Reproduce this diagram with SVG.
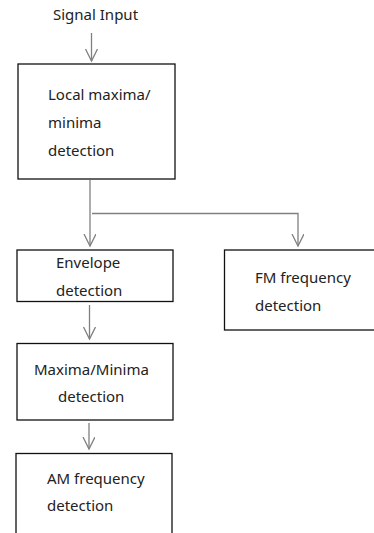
<svg xmlns="http://www.w3.org/2000/svg" width="374" height="533" viewBox="0 0 374 533">
<style>
text{font-family:"Noto Sans","Liberation Sans",sans-serif;font-size:15px;fill:#222}
.box{fill:#fff;stroke:#111;stroke-width:1.3}
.c{fill:none;stroke:#808080;stroke-width:1.3}
</style>
<defs>
<marker id="ah" markerWidth="14" markerHeight="14" refX="12" refY="6" orient="auto" markerUnits="userSpaceOnUse">
<path d="M0,0 L12,6 L0,12" fill="none" stroke="#808080" stroke-width="1.3"/>
</marker>
</defs>
<rect width="374" height="533" fill="#fff"/>
<text x="53" y="20">Signal Input</text>
<g id="connectors">
<line class="c" x1="91.5" y1="33" x2="91.5" y2="61" marker-end="url(#ah)"/>
<line class="c" x1="90" y1="180" x2="90" y2="246" marker-end="url(#ah)"/>
<polyline class="c" points="92,213.5 298,213.5 298,246" marker-end="url(#ah)"/>
<line class="c" x1="89.5" y1="305" x2="89.5" y2="339" marker-end="url(#ah)"/>
<line class="c" x1="89" y1="423" x2="89" y2="449" marker-end="url(#ah)"/>
</g>
<g id="local">
<rect class="box" x="18" y="64" width="157" height="115"/>
<text x="48" y="100">Local maxima/</text>
<text x="48" y="128">minima</text>
<text x="48" y="156">detection</text>
</g>
<g id="envelope">
<rect class="box" x="17" y="250" width="156" height="51.5"/>
<text x="56" y="268">Envelope</text>
<text x="56" y="296">detection</text>
</g>
<g id="fm">
<rect class="box" x="224.5" y="250" width="160" height="80"/>
<text x="255" y="283">FM frequency</text>
<text x="255" y="311">detection</text>
</g>
<g id="maxmin">
<rect class="box" x="17" y="343.5" width="156" height="76.5"/>
<text x="34" y="375">Maxima/Minima</text>
<text x="58" y="402">detection</text>
</g>
<g id="am">
<rect class="box" x="16" y="453.5" width="156" height="90"/>
<text x="47" y="484">AM frequency</text>
<text x="47" y="511">detection</text>
</g>
</svg>
